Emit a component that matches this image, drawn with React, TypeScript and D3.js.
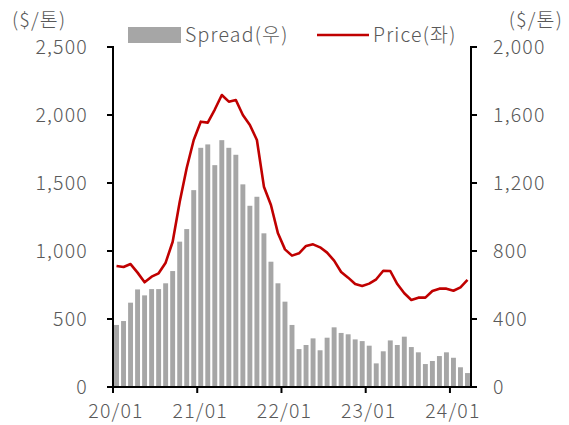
import React from "react";
import * as d3 from "d3";

// monthly, 20/01 ~ 24/03
const months: string[] = d3
  .timeMonths(new Date(2020, 0, 1), new Date(2024, 3, 1))
  .map((d) => d3.timeFormat("%y/%m")(d));

// Spread ($/톤), right axis
const spread = [
  365, 388, 496, 574, 539, 576, 576, 610, 682, 855, 929, 1158, 1407, 1427,
  1305, 1452, 1407, 1366, 1192, 1066, 1119, 904, 737, 610, 502, 365, 223, 247,
  286, 216, 290, 351, 318, 310, 280, 270, 243, 139, 210, 274, 247, 296, 235,
  204, 135, 153, 182, 204, 172, 116, 82,
];

// Price ($/톤), left axis
const price = [
  890, 882, 904, 841, 770, 811, 836, 914, 1068, 1360, 1610, 1816, 1951, 1944,
  2040, 2147, 2098, 2110, 2000, 1926, 1816, 1473, 1338, 1130, 1012, 966, 983,
  1037, 1049, 1027, 988, 929, 846, 804, 757, 743, 760, 792, 855, 853, 757, 689,
  640, 657, 657, 706, 723, 723, 708, 733, 787,
];

const leftTicks = [0, 500, 1000, 1500, 2000, 2500];
const rightTicks = [0, 400, 800, 1200, 1600, 2000];
const xTickLabels = ["20/01", "21/01", "22/01", "23/01", "24/01"];

const W = 569;
const H = 425;
const m = { top: 47, right: 98, bottom: 38, left: 113 };
const font = "'Noto Sans CJK KR', 'Noto Sans', sans-serif";
const txt = "#595959";

export default function App() {
  const x = d3
    .scaleBand<string>()
    .domain(months)
    .range([m.left, W - m.right])
    .paddingInner(0.3)
    .paddingOuter(0.15);
  const yL = d3.scaleLinear().domain([0, 2500]).range([H - m.bottom, m.top]);
  const yR = d3.scaleLinear().domain([0, 2000]).range([H - m.bottom, m.top]);
  const fmt = d3.format(",");
  const step = x.step();
  const x0 = m.left;
  const x1 = W - m.right;
  const yb = H - m.bottom;

  const line = d3
    .line<number>()
    .x((_, i) => (x(months[i]) as number) + x.bandwidth() / 2)
    .y((d) => yL(d));

  const tickX = (lab: string) => x0 + months.indexOf(lab) * step;

  return (
    <svg
      width={W}
      height={H}
      style={{ position: "absolute", left: 0, top: 0, background: "#fff" }}
      fontFamily={font}
    >
      {/* bars */}
      {spread.map((v, i) => (
        <rect
          key={i}
          x={x(months[i])}
          y={yR(v)}
          width={x.bandwidth()}
          height={yb - yR(v)}
          fill="#A6A6A6"
        />
      ))}
      <path d={line(price) || ""} fill="none" stroke="#C00000" strokeWidth={2.6} strokeLinejoin="round" />

      {/* axes */}
      <g stroke="#000" strokeWidth={2} fill="none">
        <path d={`M${x0 - 6},${m.top}H${x0}V${yb}H${x1}V${m.top}H${x1 + 6}`} />
        {leftTicks.map((t) => (
          <line key={"l" + t} x1={x0 - 6} x2={x0} y1={yL(t)} y2={yL(t)} />
        ))}
        {rightTicks.map((t) => (
          <line key={"r" + t} x1={x1} x2={x1 + 6} y1={yR(t)} y2={yR(t)} />
        ))}
        {xTickLabels.map((l) => (
          <line key={"x" + l} x1={tickX(l)} x2={tickX(l)} y1={yb} y2={yb + 6} />
        ))}
      </g>

      <g fill={txt} fontSize={19.5} fontWeight={300} letterSpacing={1.2}>
        {leftTicks.map((t) => (
          <text key={"lt" + t} x={88} y={yL(t)} dy="0.35em" textAnchor="end">
            {fmt(t)}
          </text>
        ))}
        {rightTicks.map((t) => (
          <text key={"rt" + t} x={493} y={yR(t)} dy="0.35em" textAnchor="start">
            {fmt(t)}
          </text>
        ))}
        {xTickLabels.map((l) => (
          <text key={"xt" + l} x={tickX(l) + 3} y={411} dy="0.35em" textAnchor="middle">
            {l}
          </text>
        ))}
        <text x={12} y={20} dy="0.35em">($/톤)</text>
        <text x={563} y={20} dy="0.35em" textAnchor="end">($/톤)</text>

        {/* legend */}
        <rect x={128} y={27} width={53} height={16} fill="#A6A6A6" />
        <text x={185} y={35} dy="0.35em">Spread(우)</text>
        <line x1={317} x2={369} y1={35} y2={35} stroke="#C00000" strokeWidth={2.6} />
        <text x={373} y={35} dy="0.35em">Price(좌)</text>
      </g>
    </svg>
  );
}
